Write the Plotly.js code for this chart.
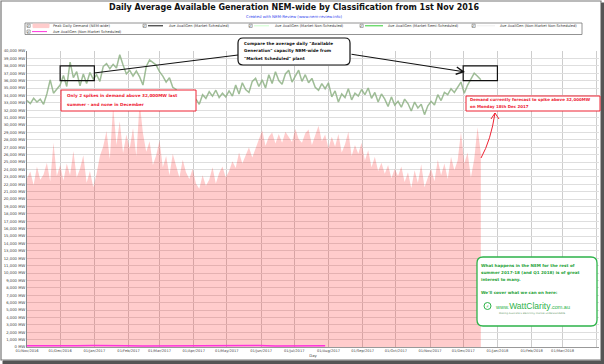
<!DOCTYPE html>
<html><head><meta charset="utf-8">
<script src="https://cdn.plot.ly/plotly-3.0.1.min.js"></script>
<style>html,body{margin:0;padding:0;background:#fff;}#chart{width:604px;height:364px;}</style>
</head><body><div id="chart"></div>
<script>
// ---- data ----
const startDate = '2016-11-01';
const stepDemand = 3; // days between readings
const peakDemand = [
 22800,23700,21900,24400,22600,23300,24900,22400,27600,23100,
 24600,22500,24800,23200,26500,22900,24100,25900,22200,23800,21600,
 23400,25800,27100,29200,25400,32600,27300,30500,26200,28700,
 26800,29600,25800,33100,28900,26400,27800,24600,25900,
 27900,24300,25800,23200,26100,24400,22900,25300,23600,22700,24100,
 22100,21400,23200,21800,22600,24300,22100,23500,24400,22900,
 23800,25100,24200,26300,24800,25900,27000,25600,26800,28200,
 29300,27200,28400,29000,27500,28800,27600,29100,28300,27700,
 29500,28100,27600,28900,29400,27300,28600,29900,27800,28700,
 26900,28400,27100,28800,26300,27400,29100,25800,27300,26100,27600,
 25200,26600,24300,25700,23800,24900,23400,24600,22800,24100,
 23100,24400,22300,23600,21500,23900,22200,24700,21600,22900,
 24100,22400,25300,23200,24800,22700,25700,23900,25200,29100,
 24800,26300,22900,25400,29700,26100
];
const availMarketScheduled = [
 33300,32900,33600,33100,33500,32800,34200,36100,34300,34800,
 35400,36700,35200,38500,36400,37200,35300,36900,35600,37100,36200,
 36800,35900,37900,38300,37600,38200,37700,39500,38100,36900,
 37400,36600,37300,36500,35400,37900,38800,38400,38100,
 37200,36600,35800,36400,35100,34800,33000,33800,32600,34200,32300,
 33500,32800,34100,33600,34500,33900,34700,33700,34300,33800,
 34600,33900,35400,34200,35700,34800,34400,35900,36300,35200,
 36100,35000,36800,35600,37200,36000,35500,36900,37400,35800,
 36600,37400,35900,36800,35700,36300,35100,34700,35600,34900,
 35700,33800,34600,33100,34200,33700,34900,33400,34300,33900,34800,
 34100,35000,33600,34400,33100,34200,33500,32500,33800,32700,
 33200,32400,33500,32900,31900,33100,32300,32800,31400,32600,
 33200,32700,34100,33300,34400,34100,34900,34400,35200,35800,
 34300,35400,36200,37000,36600,36100
];
const stepNonMkt = 15;
const availNonMarketScheduled = [180,150,200,160,190,220,170,140,160,180,150,130,170,160,190,150,170,140,160];

const xTickFormat = '%d/%b/%Y';
const yTickSuffix = ' MW';
const legendLabels = [
 'Peak Daily Demand (NEM-wide)',
 'Ave AvailGen (Market Scheduled)',
 'Ave AvailGen (Market Non-Scheduled)',
 'Ave AvailGen (Market Semi-Scheduled)',
 'Ave AvailGen (Non-Market Non-Scheduled)',
 'Ave AvailGen (Non-Market Scheduled)'
];

// ---- helpers ----
function dayStr(d){ const t = Date.UTC(2016,10,1) + d*86400000; return new Date(t).toISOString().slice(0,10); }
const W=604,H=364,ML=27,MR=5,MT=51,MB=17;
const PW=W-ML-MR, PH=H-MT-MB;
const PX = x => (x-ML)/PW;
const PY = y => (H-MB-y)/PH;

const xDemand = peakDemand.map((_,i)=>dayStr(i*stepDemand));
const xAvail = availMarketScheduled.map((_,i)=>dayStr(i*stepDemand));
const xNonMkt = availNonMarketScheduled.map((_,i)=>dayStr(i*stepNonMkt));

const traces = [
 {x:xDemand,y:peakDemand,type:'scatter',mode:'lines',fill:'tozeroy',
  line:{width:0,color:'rgba(255,0,0,0)'},fillcolor:'rgba(255,0,0,0.2)',hoverinfo:'skip'},
 {x:xAvail,y:availMarketScheduled,type:'scatter',mode:'lines',
  line:{width:1.5,color:'rgba(135,172,125,0.8)'},hoverinfo:'skip'},
 {x:xNonMkt,y:availNonMarketScheduled,type:'scatter',mode:'lines',
  line:{width:1.5,color:'#ff33dd'},hoverinfo:'skip'}
];

const shapes=[], ann=[];
function pxRect(x0,y0,x1,y1,line,fill,lw){ shapes.push({type:'rect',xref:'paper',yref:'paper',x0:PX(x0),x1:PX(x1),y0:PY(y0),y1:PY(y1),line:{color:line,width:lw||1},fillcolor:fill||'rgba(0,0,0,0)',layer:'above'}); }
function pxLine(x0,y0,x1,y1,color,w){ shapes.push({type:'line',xref:'paper',yref:'paper',x0:PX(x0),x1:PX(x1),y0:PY(y0),y1:PY(y1),line:{color:color,width:w||1}}); }
function P(x,y){ return PX(x).toFixed(5)+','+PY(y).toFixed(5); }
function roundRect(x0,y0,x1,y1,r,line,fill,lw){
 const p='M '+P(x0+r,y0)+' L '+P(x1-r,y0)+' Q '+P(x1,y0)+' '+P(x1,y0+r)+' L '+P(x1,y1-r)+' Q '+P(x1,y1)+' '+P(x1-r,y1)+
  ' L '+P(x0+r,y1)+' Q '+P(x0,y1)+' '+P(x0,y1-r)+' L '+P(x0,y0+r)+' Q '+P(x0,y0)+' '+P(x0+r,y0)+' Z';
 shapes.push({type:'path',xref:'paper',yref:'paper',path:p,line:{color:line,width:lw||1},fillcolor:fill||'rgba(0,0,0,0)'});
}
function txt(x,y,t,size,color,bold,anchor,family){
 ann.push({xref:'paper',yref:'paper',x:PX(x),y:PY(y),text:bold?'<b>'+t+'</b>':t,showarrow:false,
  xanchor:anchor||'left',yanchor:'middle',align:'left',font:{size:size,color:color,family:family||'DejaVu Sans, Verdana, sans-serif'}});
}

// frame
pxRect(1,1,601,360,'#777','rgba(0,0,0,0)',1.2);
pxRect(3,361,604,364,'#555','#555',0);
pxRect(601.5,3,604,364,'#555','#555',0);

// title
txt(294,7.5,'Daily Average Available Generation NEM-wide by Classification from 1st Nov 2016',8,'#111',true,'center');
txt(294,17,'Created with NEM-Review (www.nem-review.info)',3.9,'#3344ee',false,'center');

// legend
pxRect(25,23,582,34.5,'#777','#fff',0.8);
const legX=[27,143,249,360,472,27], legY=[25.8,25.8,25.8,25.8,25.8,31.6];
const legCol=['#ffcccc','#111','#ccffcc','#33cc33','#eeeeee','#ff33dd'];
for(let i=0;i<6;i++){
 const x=legX[i], y=legY[i];
 pxRect(x,y-1.6,x+3.2,y+1.6,'#555','#fff',0.5);
 txt(x+1.6,y,'✓',3.2,'#000',false,'center');
 if(i===0){ pxRect(x+6,y-1.8,x+22,y+1.8,'#ffcccc','#ffcccc',0); }
 else { pxLine(x+5, y, x+(i>=3&&i<5?23:20), y, legCol[i], 1); }
 txt(x+(i>=3&&i<5?26:24),y,legendLabels[i],3.6,'#333',false,'left');
}

// data-space highlight boxes
shapes.push({type:'rect',xref:'x',yref:'y',x0:'2016-12-01',x1:'2017-01-01',y0:36000,y1:38000,line:{color:'#111',width:1.2}});
shapes.push({type:'rect',xref:'x',yref:'y',x0:'2017-12-01',x1:'2018-01-01',y0:36000,y1:38000,line:{color:'#111',width:1.2}});

// callout
roundRect(238,38,350,65,5,'#111','#fff',1.2);
pxLine(94,73,238,55,'#111',1.2);
ann.push({xref:'paper',yref:'paper',x:PX(465),y:PY(72),ax:-115,ay:-18,text:'',showarrow:true,arrowhead:5,arrowsize:1.3,arrowwidth:1.1,arrowcolor:'#111'});
txt(242,43,'Compare the average daily "Available',4.2,'#111',true);
txt(242,50.5,'Generation" capacity NEM-wide from',4.2,'#111',true);
txt(242,58,'"Market Scheduled" plant',4.2,'#111',true);

// red boxes
pxRect(61,90,196,111,'#ee2233','#fff',1);
txt(65,96,'Only 2 spikes in demand above 32,000MW last',4.2,'#ee2233',true);
txt(65,104,'summer - and none in December',4.2,'#ee2233',true);
pxRect(466,96,600,111,'#ee2233','#fff',1);
txt(468,99.5,'Demand currently forecast to spike above 32,000MW',4.0,'#ee2233',true);
txt(468,106.5,'on Monday 18th Dec 2017',4.0,'#ee2233',true);
shapes.push({type:'path',xref:'paper',yref:'paper',path:'M '+P(481,158)+' Q '+P(491,140)+' '+P(495,113),line:{color:'#ee2233',width:1}});
shapes.push({type:'path',xref:'paper',yref:'paper',path:'M '+P(491,119)+' L '+P(495,113)+' L '+P(499,119),line:{color:'#ee2233',width:1}});

// green box
roundRect(477,257,597,326,6,'#2db34a','#fff',1.3);
txt(479,265,'What happens in the NEM for the rest of',4.1,'#1fa33a',true);
txt(479,272.5,'summer 2017-18 (and Q1 2018) is of great',4.1,'#1fa33a',true);
txt(479,279.5,'interest to many.',4.1,'#1fa33a',true);
txt(479,292.5,"We'll cover what we can on here:",4.1,'#1fa33a',true);
shapes.push({type:'circle',xref:'paper',yref:'paper',x0:PX(484),x1:PX(491),y0:PY(302.5),y1:PY(309.5),line:{color:'#2db34a',width:1}});
txt(487.5,306,'⚡',4,'#2db34a',false,'center');
ann.push({xref:'paper',yref:'paper',x:PX(493),y:PY(305.5),xanchor:'left',yanchor:'middle',showarrow:false,
 text:'<span style="font-size:5.5px">www.</span><span style="font-size:8.5px">WattClarity</span><span style="font-size:5.5px">.com.au</span>',
 font:{size:6,color:'#2db34a',family:'Liberation Sans, Arial, sans-serif'}});
txt(497,313,"Making Australia's electricity market understandable",2.5,'#6a9a6a',false,'left');

const layout = {
 width:W,height:H,margin:{l:ML,r:MR,t:MT,b:MB,pad:0},
 paper_bgcolor:'#fff',plot_bgcolor:'#fff',showlegend:false,
 font:{family:'DejaVu Sans, Verdana, sans-serif',size:4,color:'#444'},
 xaxis:{type:'date',range:['2016-11-01','2018-04-03'],dtick:'M1',tick0:'2016-11-01',tickformat:xTickFormat,
  tickangle:0,tickfont:{size:3.6,color:'#444'},showgrid:true,gridcolor:'#cdcdcd',gridwidth:1,
  showline:true,linecolor:'#999',linewidth:1,ticks:'',zeroline:false,fixedrange:true,
  title:{text:'Day',font:{size:3.8,color:'#444'},standoff:1}},
 yaxis:{range:[0,40000],dtick:1000,tickformat:',d',ticksuffix:yTickSuffix,tickfont:{size:3.8,color:'#444'},
  showgrid:true,gridcolor:'#dedede',gridwidth:1,showline:true,linecolor:'#888',linewidth:1,ticks:'',zeroline:false,fixedrange:true},
 shapes:shapes,annotations:ann
};
Plotly.newPlot('chart',traces,layout,{displayModeBar:false,staticPlot:true});
</script></body></html>
